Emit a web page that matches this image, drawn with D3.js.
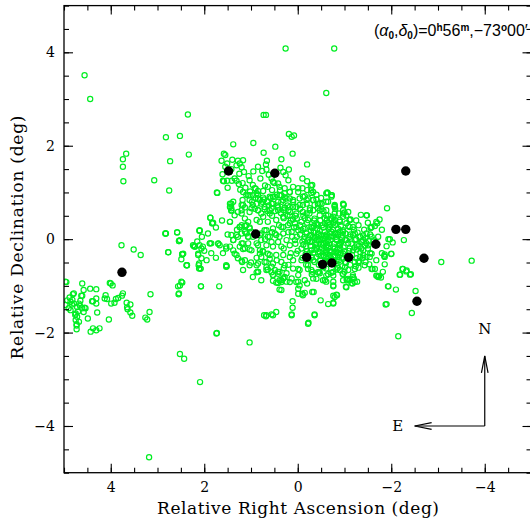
<!DOCTYPE html>
<html>
<head>
<meta charset="utf-8">
<script src="https://cdn.jsdelivr.net/npm/d3@7"></script>
<style>
  html, body { margin: 0; padding: 0; background: #fff; }
  svg { display: block; }
</style>
</head>
<body>
<svg id="chart" width="530" height="524"></svg>
<script>
// Star positions relative to the field centre: [RA offset, Dec offset] in degrees.
const tailStars = [
  [4.97,-0.91],[4.61,-0.95],[4.79,-1.16],[4.58,-1.09],[4.31,-1.07],[4.61,-1.21],[4.93,-1.31],[4.86,-1.34],
  [4.97,-1.41],[4.90,-1.48],[4.79,-1.38],[4.68,-1.38],[4.65,-1.32],[4.72,-1.45],[4.61,-1.48],[4.54,-1.48],
  [4.58,-1.56],[4.75,-1.59],[4.72,-1.66],[4.75,-1.73],[4.68,-1.77],[4.73,-1.82],[4.73,-1.93],[4.86,-1.52],
  [4.40,-1.33],[4.31,-1.27],[4.31,-1.38],[4.29,-1.57],[4.49,-1.70],[4.43,-1.98],[4.38,-1.91],[4.31,-1.95],
  [4.24,-1.91],[4.11,-1.20],[4.13,-1.27],[4.00,-0.95],[3.96,-0.99],[4.04,-1.72],[3.99,-1.38],[3.89,-1.28],
  [3.92,-1.36],[3.84,-1.26],[3.74,-1.16],[3.76,-1.21],[3.66,-1.36],[3.58,-1.40],[3.65,-1.46],[3.64,-1.50],
  [3.58,-1.57],[3.54,-1.64],[3.26,-1.68],[3.22,-1.72],[3.17,-1.56],[3.15,-1.18],[2.55,-1.18],[2.52,-0.99],
  [2.47,-0.93],[2.07,-1.01],[2.12,-0.56],[2.37,-0.56],[2.08,-0.63],[4.56,-1.47],[4.81,-1.18],[4.63,-1.21],
  [4.95,-0.92],[4.73,-1.85],[4.08,-1.28],[4.02,-0.94],[4.38,-1.33],[4.66,-1.42],[4.88,-1.25],[4.82,-1.30],
  [4.70,-1.55],[4.76,-1.62],[4.83,-1.40],[4.44,-1.06],[1.68,-1.01],[2.54,-1.16],[2.49,-0.91],[2.56,-1.01]
];

const outerStars = [
  [4.56,3.51],[4.44,3.00],[2.35,2.67],[2.82,2.18],[2.52,2.21],[2.73,1.67],[2.33,1.81],[2.75,1.04],
  [3.07,1.26],[3.67,1.83],[3.74,1.71],[3.74,1.55],[3.73,1.24],[1.38,2.03],[0.95,2.06],[1.72,0.99],
  [3.77,-0.13],[3.51,-0.22],[3.36,-0.34],[2.82,0.12],[2.58,0.15],[2.52,-0.02],[2.77,-0.28],[2.47,-0.33],
  [0.73,2.66],[0.26,4.08],[-0.78,4.08],[-0.61,3.13],[0.19,2.25],[0.13,2.19],[0.08,2.22],[0.48,1.98],
  [0.11,1.83],[-0.20,1.60],[1.73,-2.01],[1.03,-2.21],[2.52,-2.46],[2.43,-2.56],[2.09,-3.06],[3.18,-4.67],
  [0.72,-1.63],[-2.15,-2.08],[-2.44,-1.58],[-2.52,-1.11],[-3.07,-0.49],[-3.72,-0.46],[-1.90,-1.39],
  [2.83,0.12],[2.54,-0.04],[2.47,-0.32],[2.10,0.18],[1.87,0.46],[1.83,0.34],[2.22,-0.15],[1.88,-0.09],
  [1.70,-0.10],[0.68,2.66]
];

const bodyStars = [
  [-1.91,0.66],[-1.47,0.51],[-1.75,0.42],[-1.70,0.34],[-1.56,0.25],[-0.98,0.74],[-0.79,0.71],[-0.97,0.55],
  [-1.13,0.42],[-2.27,-0.02],[-1.94,0.00],[-2.03,-0.07],[-2.00,-0.31],[-1.63,-0.02],[-1.86,-0.33],[-1.86,-0.38],
  [-1.82,-0.70],[-2.25,-0.64],[-2.32,-0.69],[-2.42,-0.75],[-2.19,-0.76],[-1.74,-0.79],[-1.78,-0.82],[-1.94,-1.01],
  [-2.10,-1.08],[-1.88,-1.40],[-1.45,-0.49],[-1.53,-0.54],[-1.30,-0.61],[-1.60,-0.64],[-1.65,-0.64],[-1.86,-0.54],
  [-1.85,-0.36],[-1.40,-0.34],[-1.26,-0.41],[-1.20,-0.84],[-1.05,-0.88],[-1.03,-1.02],[-0.76,-1.01],[-0.84,-1.20],
  [-0.79,-1.24],[-0.76,-1.38],[-1.03,-0.51],[-0.83,-0.47],[-0.86,-0.61],[-1.00,-0.70],[-1.24,-0.58],[-1.31,-0.47],
  [-1.54,-0.38],[-0.83,-0.65],[-0.72,-0.72],[-0.72,0.91],[-0.72,0.44],[-0.77,0.37],[-0.86,0.23],[-0.97,0.16],
  [-1.08,0.28],[-1.13,0.10],[-1.22,-0.02],[-1.33,0.05],[-1.40,-0.02],[-1.47,-0.09],[-1.36,-0.20],[-1.26,-0.22],
  [-1.11,-0.20],[-0.90,-0.13],[-0.83,-0.27],[-0.97,-0.31],[-0.64,0.99],[-0.73,0.94],[-1.00,0.57],[-1.48,0.51],
  [-1.56,0.24],[-1.97,0.00],[-2.00,-0.32],[-2.18,-0.76],[-2.24,-0.64],[-2.33,-0.67],[-2.40,-0.76],[-1.93,-1.01],
  [-0.23,-1.79],[-0.36,-1.61],[0.13,-1.61],[0.11,-1.47],[0.11,-1.33],[0.46,-1.56],[0.56,-1.61],[0.67,-1.63],
  [-0.49,-1.31],[-0.65,-1.39],[-0.76,-1.36],[-0.76,-1.21],[-0.83,-1.19],[-0.76,-0.99],[-0.31,-1.13],[-0.10,-1.17],
  [-0.01,-1.17],[-0.01,-1.06],[-0.04,-0.99],[0.03,-0.92],[0.17,-0.92],[0.35,-0.92],[0.39,-1.08],[0.28,-0.81],
  [0.42,-0.74],[0.56,-0.71],[0.67,-0.60],[-0.61,-0.78],[-0.96,-0.74],[-1.04,-1.03],[-1.08,-0.85],[-1.18,-0.81],
  [-1.22,-0.92],[-1.15,-0.94],[-0.76,-0.78],[-1.58,-0.64],[-1.68,-0.78],[-1.72,-0.81],[-1.01,-0.60],[-1.22,-0.64],
  [-1.43,-0.56],[-0.22,-0.64],[-0.43,-0.71],[-0.58,-0.88],[-0.01,-0.64],[0.28,-0.56],[0.53,-1.63],[-0.34,-1.13],
  [-0.15,-1.15],[-0.11,-1.20],[0.35,-1.09],[0.42,-0.94],[0.31,-0.84],[0.53,-0.77],[0.85,-0.70],[-0.01,-0.77],
  [-0.31,-0.70],[-0.46,-0.70],[-0.54,-0.88],[-0.65,-0.75],[-0.97,-0.75],[-1.05,-0.86],[-1.27,-0.91],[-1.17,-0.95],
  [-1.70,-0.79],[1.19,-0.49],[0.88,-0.71],[1.52,-0.58],
  [1.58,1.83],[1.55,1.80],[1.63,1.68],[1.28,1.68],[1.24,1.62],[1.31,1.58],[1.17,1.69],[1.20,1.54],
  [1.15,1.44],[1.42,1.50],[1.51,1.62],[1.61,1.39],[1.58,1.24],[1.51,1.25],[1.41,1.25],[1.31,1.25],
  [1.73,1.00],[1.23,1.06],[0.73,1.85],[0.66,1.68],[0.68,1.60],[0.67,1.49],[0.76,1.46],[0.35,1.71],
  [0.19,1.49],[0.37,1.53],[0.31,1.44],[0.26,1.37],[0.20,1.26],[-0.20,1.24],[-0.28,1.15],[0.10,1.12],
  [-0.01,1.09],[-0.10,1.09],[-0.33,1.01],[-0.40,0.85],[-0.63,1.00],[-0.43,0.76],[1.03,1.26],[0.96,1.16],
  [0.92,1.09],[0.85,1.03],[0.74,1.03],[0.64,1.12],[0.53,1.23],[0.56,1.30],[0.42,1.19],[0.39,1.12],
  [0.28,1.09],[0.28,0.98],[0.17,1.01],[0.39,0.94],[0.49,0.91],[0.60,0.91],[0.74,0.89],[0.85,0.87],
  [0.96,0.94],[1.06,0.94],[1.03,0.84],[0.88,0.76],[0.78,0.76],[0.64,0.80],[0.53,0.76],[0.42,0.80],
  [0.31,0.84],[0.17,0.87],[0.10,0.84],[-0.04,0.87],[-0.15,0.92],[-0.22,0.87],[-0.11,0.73],[0.03,0.69],
  [0.17,0.69],[0.28,0.68],[0.42,0.68],[0.56,0.66],[0.71,0.64],[0.85,0.62],[0.99,0.66],[1.13,0.68],
  [1.28,0.58],[1.42,0.61],[1.18,0.84],[1.38,0.80],[1.45,0.76],[-0.26,0.66],[-0.36,0.73],[-0.51,0.64],
  [-0.61,0.62],[-0.61,0.80],[1.45,0.69],[1.42,0.62],[1.81,0.35],[2.10,0.19],[1.45,0.37],[1.24,0.26],
  [1.10,0.30],[1.13,0.16],[1.03,0.23],[1.28,0.05],[1.38,-0.02],[1.17,-0.09],[1.06,0.05],[0.78,0.12],
  [0.67,0.19],[0.78,-0.02],[0.60,0.05],[0.49,0.12],[0.39,0.05],[0.31,0.26],[0.17,0.34],[0.03,0.26],
  [-0.08,0.19],[-0.19,0.12],[-0.33,0.05],[-0.40,-0.09],[-0.51,-0.02],[-0.61,0.05],[-0.72,0.16],[-0.83,0.12],
  [-0.97,0.19],[-1.11,0.26],[-1.18,0.09],[-1.04,-0.02],[-0.90,-0.09],[-0.76,-0.16],[-0.61,-0.16],[2.20,-0.16],
  [2.03,-0.16],[1.85,-0.09],[1.67,-0.13],[1.53,-0.16],[-0.61,0.98],[-0.72,0.94],[-0.98,0.73],[-0.97,0.62],
  [-0.79,0.69],[-1.11,0.41],[-0.31,1.16],[-0.29,1.05],[-0.19,0.84],[-0.33,0.84],[-0.47,0.76],[-0.47,0.62],
  [-0.33,0.62],[-0.19,0.55],[-0.61,0.51],[-0.76,0.48],[-0.90,0.41],[-1.04,0.51],
  [1.17,1.01],[1.03,0.94],[0.88,0.98],[0.81,0.84],[0.96,0.73],[1.17,0.73],[1.20,0.62],[1.03,0.58],
  [0.85,0.62],[0.71,0.69],[0.56,0.76],[0.53,0.91],[0.35,0.94],[0.24,0.87],[0.17,1.01],[-0.01,1.01],
  [-0.11,0.91],[-0.29,0.99],[-0.33,0.84],[-0.19,0.76],[-0.04,0.73],[0.10,0.69],[0.28,0.66],[0.42,0.62],
  [0.60,0.55],[0.74,0.48],[0.88,0.41],[1.06,0.37],[1.20,0.30],[0.64,0.37],[0.46,0.41],[0.31,0.48],
  [0.17,0.51],[0.03,0.55],[-0.11,0.58],[-0.26,0.62],[-0.43,0.66],[-0.47,0.51],[-0.36,0.44],[-0.22,0.41],
  [-0.08,0.37],[0.06,0.34],[0.21,0.30],[0.35,0.26],[0.53,0.23],[0.71,0.19],[0.81,0.09],[0.64,0.05],
  [0.46,0.09],[0.31,0.12],[0.13,0.16],[-0.01,0.19],[-0.15,0.23],[-0.29,0.26],[-0.43,0.30],[-0.58,0.34],
  [-0.68,0.26],[-0.58,0.16],[-0.43,0.12],[-0.29,0.09],[-0.15,0.05],[-0.26,-0.06],[-0.40,-0.02],[-0.54,0.01],
  [-0.68,0.05],[-0.79,0.12],[-0.90,0.16],[-0.83,-0.02],[-0.68,-0.09],[-0.54,-0.13],[-0.40,-0.16],[-0.29,-0.24],
  [-0.47,-0.27],[-0.61,-0.24],[-0.79,-0.20],[-0.90,-0.13],[-1.01,-0.02],[-1.11,0.05],[-1.22,0.12],[-1.33,0.05],
  [-1.47,0.12],[-1.58,0.05],[-1.18,0.26],[-1.04,0.34],[-0.90,0.37],[-0.79,0.41],[-0.97,0.48],[-1.11,0.41],
  [-1.08,0.58],[-0.79,0.55],[-0.65,0.51],[-0.51,0.76],[-0.65,0.80],[-0.79,0.73],[-0.97,0.76],[-1.47,0.51],
  [-1.68,0.37],[-1.58,0.26],[-1.36,-0.06],[-1.26,-0.13],[-1.18,-0.24],[-1.40,-0.24],[-1.51,-0.13],[-1.58,-0.31],
  [-1.47,-0.38],[-1.33,-0.38],[-1.22,-0.49],[-0.90,-0.34],[-1.01,-0.49],[-0.83,-0.52],[-0.68,-0.34],[-0.61,-0.38],
  [-0.40,-0.38],[-0.36,-0.49],[-0.22,-0.56],[-0.29,-0.66],[-0.47,-0.73],[-0.61,-0.63],[-0.76,-0.70],[-0.90,-0.66],
  [-1.08,-0.66],[-1.18,-0.77],[-1.11,-0.88],[-0.97,-0.88],[-0.76,-0.91],[-0.61,-0.91],[-0.33,-0.84],[-0.15,-0.88],
  [-0.04,-0.66],[-0.08,-0.45],[0.03,-0.31],[0.10,-0.45],[0.10,-0.63],[0.24,-0.73],[0.39,-0.70],[0.53,-0.77],
  [0.67,-0.66],[0.85,-0.70],[0.88,-0.56],[0.71,-0.49],[0.53,-0.52],[0.35,-0.49],[0.17,-0.38],[0.31,-0.34],
  [0.46,-0.34],[0.64,-0.31],[0.81,-0.31],[0.99,-0.24],[1.13,-0.20],[1.20,-0.09],[1.06,-0.09],[0.85,-0.13],
  [0.67,-0.13],[0.53,-0.16],[0.35,-0.16],[0.17,-0.13],[0.06,-0.02],[0.24,-0.02],[0.42,-0.06],[0.56,-0.06],
  [0.96,0.05],[1.10,0.12],[1.13,-0.45],[1.03,-0.56],[1.17,-0.66],[0.96,-0.81],[0.78,-0.88],[0.53,-0.89],
  [0.35,-0.88],[0.13,-0.84],[-0.01,-0.91],
  [2.83,0.12],[2.58,0.14],[2.54,-0.04],[2.77,-0.28],[2.47,-0.32],[2.49,-0.43],[2.37,-0.56],[2.10,0.18],
  [1.87,0.46],[1.83,0.34],[1.45,0.37],[2.20,-0.16],[2.10,-0.13],[2.06,-0.20],[2.13,-0.31],[2.06,-0.41],
  [2.11,-0.52],[2.11,-0.63],[1.88,-0.09],[1.70,-0.09],[1.53,-0.59],[1.53,-0.20],[1.45,-0.16],[1.38,-0.24],
  [1.35,-0.31],[1.31,-0.34],[1.28,-0.41],[1.20,-0.46],[1.24,-0.16],[1.38,-0.02],[1.42,0.09],[1.31,0.09],
  [1.20,0.12],[1.06,0.05],[1.24,0.26],[1.13,0.28],[1.03,0.25],[0.99,0.16],[1.42,0.76],[1.42,0.66],
  [1.20,0.73],[1.20,0.55],[1.35,0.51],[1.13,0.44],[0.81,0.37],[0.60,0.62],[1.03,-0.22],[1.17,-0.21],
  [0.88,-0.09],[0.81,-0.24],[0.74,-0.27],[0.78,-0.38],[0.60,-0.34],[0.67,-0.49],[0.85,-0.52],[0.85,-0.70],
  [0.56,-0.59],[0.64,-0.65],[0.49,-0.66],[0.42,-0.70],[0.39,-0.88],[0.46,-0.93],[0.31,-0.84],[0.24,-0.91],
  [1.53,-0.56],[2.07,-1.01],[2.24,-0.13],[2.45,-0.31],[2.38,-0.56],[2.13,-0.34],[2.08,-0.63],
  [-0.05,0.30],[-0.12,0.22],[-0.20,0.35],[-0.28,0.18],[-0.35,0.40],[-0.42,0.22],[-0.50,0.08],[-0.55,0.25],
  [-0.62,0.10],[-0.70,-0.02],[-0.75,0.20],[-0.82,0.05],[-0.88,-0.10],[-0.95,0.02],[-0.30,-0.05],[-0.38,-0.12],
  [-0.45,-0.02],[-0.52,-0.20],[-0.60,-0.30],[-0.66,-0.18],[-0.72,-0.28],[-0.80,-0.35],[-0.85,-0.22],[-0.92,-0.30],
  [-0.98,-0.18],[-0.25,-0.30],[-0.18,-0.15],[-0.10,-0.05],[-0.05,0.10],[0.02,0.05],[0.08,0.25],[-0.15,0.45],
  [-0.25,0.55],[-0.35,0.28],[-0.48,0.40],[-0.58,0.45],[-0.65,0.35],[-0.72,0.42],[-0.40,0.05],[-0.56,-0.08],
  [-0.63,-0.42],[-0.75,-0.45],[-0.88,-0.45],[-1.05,-0.38],[-1.10,-0.25],[-1.15,-0.10],[-1.25,0.00],[-1.30,-0.15],
  [-1.38,-0.05],[-1.45,0.02],[-1.20,0.20],[-1.30,0.30],[-1.42,0.20],[-1.55,0.10],[-1.62,-0.05],[-1.50,-0.20],
  [-1.55,-0.30],[-0.33,-0.45],[-0.45,-0.55],[-0.55,-0.60],[-0.18,-0.55],[-0.10,-0.40],[0.00,-0.25],[0.05,-0.10],
  [0.12,0.05],[0.20,0.15],[0.15,0.40],[0.05,0.50],[-0.05,0.65],[0.10,0.80],[0.22,0.72],[0.35,0.80],
  [0.45,0.95],[0.55,1.05],[0.70,1.15],[0.80,1.30],[0.62,1.38],[0.50,1.20],[0.38,1.05],[0.28,0.90],
  [0.20,0.62],[0.30,0.45],[0.40,0.30],[0.55,0.50],[0.65,0.60],[0.78,0.55],[0.92,0.65],[0.98,0.80],
  [0.85,0.95],[0.72,0.85],[1.10,0.95],[1.18,1.20],[1.05,1.35],[0.95,1.45],[0.85,1.55],[1.25,1.40],
  [1.35,1.30],[1.45,1.45],[1.55,1.55],[1.40,1.70],[1.60,1.25],[1.50,1.10],[0.90,1.08],[-0.10,1.30],
  [-0.20,1.05],[-0.40,0.95],[-0.50,0.88],[-0.55,0.60],[-0.80,0.65],[-0.88,0.55],[-1.25,0.40],[-1.35,0.52],
  [-1.50,0.35],[-1.65,0.28],[-1.80,0.20],[-1.72,0.05],[-1.90,-0.15],[-1.80,-0.30],[-1.68,-0.45],[-1.40,-0.40],
  [-1.30,-0.50],[-1.12,-0.55],[-0.95,-0.58],[-0.30,-0.75],[-0.40,-0.85],[-0.20,-0.95],[0.20,-0.55],[0.30,-0.62],
  [0.45,-0.45],[0.60,-0.42],[0.75,-0.25],[0.88,-0.40],[1.00,-0.50],[0.70,0.00],[0.55,0.15],[0.30,-0.20],
  [0.15,-0.30],[1.30,0.20],[1.50,0.10],[1.60,-0.30],[1.75,-0.40],[1.85,-0.30],[1.95,-0.45],[2.00,-0.25],
  [2.15,-0.05],[2.05,0.05],[1.92,0.12],[1.75,0.25],[1.62,0.40],
  [1.74,-2.02],[-0.22,-1.81],[0.68,-1.65],[0.13,-1.63],[-0.36,-1.63]
];

// Densest part of the core, south-west of the field centre
const coreStars = [
  [-0.22,-0.02],[-0.34,0.14],[-0.47,0.18],[-0.58,0.02],[-0.66,0.22],[-0.74,0.06],[-0.86,0.10],[-0.93,-0.06],
  [-0.78,-0.10],[-0.64,-0.04],[-0.50,-0.10],[-0.36,-0.22],[-0.44,-0.32],[-0.56,-0.36],[-0.68,-0.26],[-0.76,-0.38],
  [-0.86,-0.30],[-0.94,-0.40],[-0.70,-0.48],[-0.58,-0.50],[-0.48,-0.44],[-0.30,-0.38],[-0.20,-0.26],[-0.12,-0.12],
  [-0.26,0.08],[-0.40,0.34],[-0.52,0.30],[-0.62,0.40],[-0.80,0.30],[-0.92,0.28],[-1.02,0.12],[-1.08,-0.08],
  [-1.00,-0.26],[-1.16,-0.34],[-1.22,-0.18],[-1.34,-0.28],[-1.28,0.14],[-1.40,0.08],[-1.52,-0.04],[-1.44,-0.14],
  [0.10,0.42],[0.22,0.50],[0.36,0.56],[0.48,0.60],[0.62,0.72],[0.76,0.80],[0.90,0.88],[1.02,1.02],
  [1.12,1.10],[1.26,1.18],[0.58,0.88],[0.44,0.72],[0.30,0.62],[0.16,0.58],[0.02,0.44],[-0.12,0.50],
  [-0.27,-0.14],[-0.33,-0.30],[-0.41,-0.20],[-0.49,-0.36],[-0.55,-0.26],[-0.63,-0.12],[-0.71,-0.40],[-0.79,-0.28],
  [-0.87,-0.38],[-0.91,-0.20],[-0.83,0.00],[-0.69,0.12],[-0.57,0.08],[-0.45,0.10],[-0.37,0.02],[-0.31,0.24],
  [-0.17,-0.32],[-0.24,-0.44],[-0.14,0.00],[-0.08,-0.20],[-0.60,-0.46],[-0.66,0.30],[-0.76,0.34],[-0.96,0.08]
];

// Clusters highlighted with filled symbols.
const clusterStars = [
  [1.48,1.46],[0.49,1.41],[0.90,0.11],[3.76,-0.71],[-0.19,-0.39],[-0.53,-0.54],[-0.73,-0.51],
  [-1.09,-0.39],[-1.67,-0.11],[-2.10,0.21],[-2.31,0.21],[-2.31,1.46],[-2.70,-0.41],[-2.55,-1.33]
];

const xTickValues = [4, 2, 0, -2, -4];
const yTickValues = [-4, -2, 0, 2, 4];
const minorTickValues = d3.range(-5, 5.01, 0.5);

const svg = d3.select("#chart");
const plot = { left: 64, top: 5.6, right: 531.5, bottom: 472.7 };

const x = d3.scaleLinear().domain([5, -5]).range([plot.left, plot.right]);
const y = d3.scaleLinear().domain([-5, 5]).range([plot.bottom, plot.top]);

const fmt = d => (d < 0 ? "\u2212" + Math.abs(d) : String(d));
const serif = "'DejaVu Serif', serif";

// Data points, clipped to the frame
svg.append("clipPath").attr("id", "frame-clip")
  .append("rect")
  .attr("x", plot.left).attr("y", plot.top)
  .attr("width", plot.right - plot.left).attr("height", plot.bottom - plot.top);

const points = svg.append("g").attr("clip-path", "url(#frame-clip)");

points.selectAll("circle.field")
  .data(tailStars.concat(outerStars, bodyStars, coreStars))
  .join("circle")
  .attr("class", "field")
  .attr("cx", d => x(d[0]))
  .attr("cy", d => y(d[1]))
  .attr("r", 2.6)
  .attr("fill", "none")
  .attr("stroke", "#00ee22")
  .attr("stroke-width", 1.2);

points.selectAll("circle.cluster")
  .data(clusterStars)
  .join("circle")
  .attr("class", "cluster")
  .attr("cx", d => x(d[0]))
  .attr("cy", d => y(d[1]))
  .attr("r", 4.7)
  .attr("fill", "#000");

// Axes: ticks point inward on all four sides
function styleAxis(g) {
  g.select(".domain").remove();
  g.selectAll(".tick line").attr("stroke", "#000").attr("stroke-width", 1.1);
  g.selectAll(".tick text")
    .attr("font-family", serif)
    .attr("font-size", 14)
    .attr("fill", "#000");
}

svg.append("g").attr("transform", `translate(0,${plot.bottom})`)
  .call(d3.axisBottom(x).tickValues(minorTickValues).tickSize(-5).tickFormat(""))
  .call(styleAxis);
svg.append("g").attr("transform", `translate(0,${plot.bottom})`)
  .call(d3.axisBottom(x).tickValues(xTickValues).tickSize(-9).tickPadding(9).tickFormat(fmt))
  .call(styleAxis);
svg.append("g").attr("transform", `translate(0,${plot.top})`)
  .call(d3.axisTop(x).tickValues(minorTickValues).tickSize(-5).tickFormat(""))
  .call(styleAxis);
svg.append("g").attr("transform", `translate(0,${plot.top})`)
  .call(d3.axisTop(x).tickValues(xTickValues).tickSize(-9).tickFormat(""))
  .call(styleAxis);

svg.append("g").attr("transform", `translate(${plot.left},0)`)
  .call(d3.axisLeft(y).tickValues(minorTickValues).tickSize(-5).tickFormat(""))
  .call(styleAxis);
svg.append("g").attr("transform", `translate(${plot.left},0)`)
  .call(d3.axisLeft(y).tickValues(yTickValues).tickSize(-9).tickPadding(9).tickFormat(fmt))
  .call(styleAxis);
svg.append("g").attr("transform", `translate(${plot.right},0)`)
  .call(d3.axisRight(y).tickValues(minorTickValues).tickSize(-5).tickFormat(""))
  .call(styleAxis);
svg.append("g").attr("transform", `translate(${plot.right},0)`)
  .call(d3.axisRight(y).tickValues(yTickValues).tickSize(-9).tickFormat(""))
  .call(styleAxis);

svg.append("rect")
  .attr("x", plot.left).attr("y", plot.top)
  .attr("width", plot.right - plot.left).attr("height", plot.bottom - plot.top)
  .attr("fill", "none").attr("stroke", "#000").attr("stroke-width", 1.3);

// Axis titles
svg.append("text")
  .attr("x", 298).attr("y", 514)
  .attr("text-anchor", "middle")
  .attr("font-family", serif).attr("font-size", 17)
  .attr("textLength", 282).attr("lengthAdjust", "spacing")
  .text("Relative Right Ascension (deg)");

svg.append("text")
  .attr("transform", `translate(23,237.5) rotate(-90)`)
  .attr("text-anchor", "middle")
  .attr("font-family", serif).attr("font-size", 17)
  .attr("textLength", 244).attr("lengthAdjust", "spacing")
  .text("Relative Declination (deg)");

// Field centre annotation
const note = svg.append("text")
  .attr("x", 374).attr("y", 36)
  .attr("font-family", "'Liberation Sans', Arial, sans-serif")
  .attr("font-size", 16);
note.append("tspan").text("(");
note.append("tspan").attr("font-style", "italic").text("\u03b1");
note.append("tspan").attr("font-size", 10).attr("font-weight", "bold").attr("dy", 3).text("0");
note.append("tspan").attr("dy", -3).text(",");
note.append("tspan").attr("font-style", "italic").text("\u03b4");
note.append("tspan").attr("font-size", 10).attr("font-weight", "bold").attr("dy", 3).text("0");
note.append("tspan").attr("dy", -3).text(")=0");
note.append("tspan").attr("font-size", 10).attr("font-weight", "bold").attr("dy", -5).text("h");
note.append("tspan").attr("dy", 5).text("56");
note.append("tspan").attr("font-size", 10).attr("font-weight", "bold").attr("dy", -5).text("m");
note.append("tspan").attr("dy", 5).text(",\u221273");
note.append("tspan").attr("font-size", 10).attr("font-weight", "bold").attr("dy", -5).text("o");
note.append("tspan").attr("dy", 5).text("00\u2032");

// Compass: north up, east to the left
const compass = svg.append("g").attr("stroke", "#000").attr("stroke-width", 1.2).attr("fill", "none");
const cx0 = x(-4), cy0 = y(-4);
const nTip = y(-2.5), eTip = x(-2.5);
compass.append("line").attr("x1", cx0).attr("y1", cy0).attr("x2", cx0).attr("y2", nTip);
compass.append("path").attr("d", `M${cx0 - 3.3},${nTip + 17}L${cx0},${nTip}L${cx0 + 3.3},${nTip + 17}`);
compass.append("line").attr("x1", cx0).attr("y1", cy0).attr("x2", eTip).attr("y2", cy0);
compass.append("path").attr("d", `M${eTip + 17},${cy0 - 3.3}L${eTip},${cy0}L${eTip + 17},${cy0 + 3.3}`);

svg.append("text").attr("x", cx0).attr("y", nTip - 22)
  .attr("text-anchor", "middle").attr("font-family", serif).attr("font-size", 15).text("N");
svg.append("text").attr("x", eTip - 17).attr("y", cy0 + 5.5)
  .attr("text-anchor", "middle").attr("font-family", serif).attr("font-size", 15).text("E");
</script>
</body>
</html>
